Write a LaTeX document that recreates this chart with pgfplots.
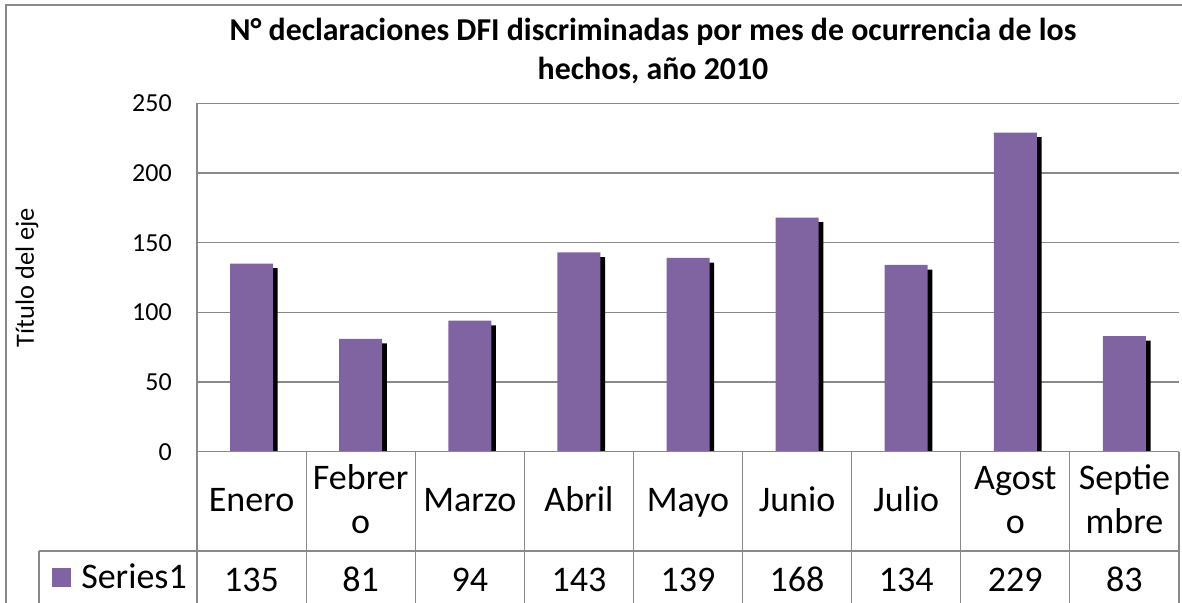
\documentclass[border=0pt]{standalone}
\usepackage{pgfplots}
\pgfplotsset{compat=1.18}
\usepackage{fontspec}
\setmainfont{Carlito}
\usetikzlibrary{shadows}
\definecolor{barpurple}{HTML}{8064A2}
\definecolor{gridgray}{HTML}{898989}
\newcommand{\catfont}{\fontsize{27pt}{33pt}\selectfont}
\begin{document}
\begin{tikzpicture}[x=0.75pt,y=0.75pt]
\useasboundingbox (0,0) rectangle (1182,603);
\begin{axis}[
  at={(147.75pt,113.475pt)}, anchor=south west, scale only axis,
  width=736.5pt, height=261.3pt,
  xmin=-0.5, xmax=8.5, ymin=0, ymax=250,
  ytick={0,50,...,250}, xtick={0,...,8},
  xticklabels={{Enero\strut},{Febrer\strut\\o\strut},{Marzo\strut},{Abril\strut},{Mayo\strut},{Junio\strut},{Julio\strut},{Agost\strut\\o\strut},{Septie\strut\\mbre\strut}},
  extra x ticks={0,...,8},
  extra x tick labels={135,81,94,143,139,168,134,229,83},
  extra x tick style={xticklabel style={yshift=-57.45pt}},
  ymajorgrids, grid style={gridgray, line width=0.9pt},
  axis line style={draw=none},
  major tick length=0pt,
  /pgf/number format/assume math mode=true,
  yticklabel style={font=\fontsize{19.5pt}{23pt}\selectfont, anchor=east, inner sep=0pt, xshift=-18.75pt},
  xticklabel style={font=\catfont, align=center, anchor=center, inner sep=0pt, yshift=-38.4pt},
  ylabel={Título del eje},
  every axis y label/.style={at={(axis description cs:-0.1731,0.5)}, anchor=center, rotate=90, font=\fontsize{19.8pt}{23pt}\selectfont},
]
\addplot[ybar, bar width=32.25pt, fill=barpurple, draw=none,
  drop shadow={shadow xshift=3.5pt, shadow yshift=-3.5pt, opacity=1, fill=black}]
  coordinates {(0,135) (1,81) (2,94) (3,143) (4,139) (5,168) (6,134) (7,229) (8,83)};
\end{axis}
% table and frame lines
\draw[gridgray, line width=0.9pt] (197,499.7) -- (197,0);
\draw[gridgray, line width=0.9pt] (197,151.3) -- (1179,151.3);
\draw[gridgray, line width=0.9pt] (39,52) -- (1179,52);
\draw[gridgray, line width=0.9pt] (39,52) -- (39,0);
\foreach \k in {1,...,9} {
  \draw[gridgray, line width=0.9pt] ({197+109.11*\k},151.3) -- ({197+109.11*\k},0);
}
\draw[gridgray, line width=0.9pt] (6,0) -- (6,598) -- (1182,598);
% legend key
\fill[barpurple] (52,16) rectangle (71,35);
\node[anchor=base west, inner sep=0pt, font=\catfont] at (81,14.7) {Series1};
% title
\node[anchor=base, inner sep=0pt, font=\bfseries\fontsize{23.9pt}{28pt}\selectfont] at (653,562.3) {N° declaraciones DFI discriminadas por mes de ocurrencia de los};
\node[anchor=base, inner sep=0pt, font=\bfseries\fontsize{23.9pt}{28pt}\selectfont] at (653,523) {hechos, año 2010};
\end{tikzpicture}
\end{document}
